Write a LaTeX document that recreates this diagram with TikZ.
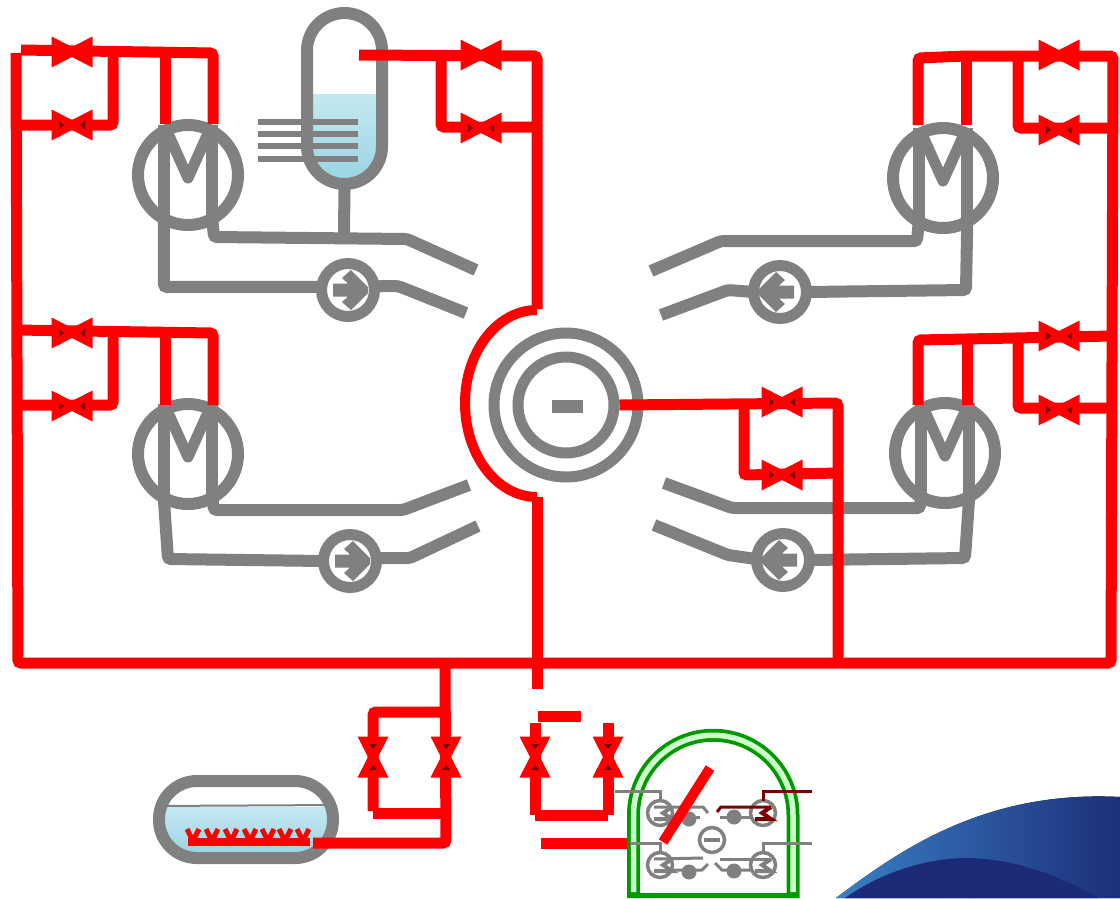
\documentclass[tikz,border=0pt]{standalone}
\usepackage{xcolor}
\usepackage{tikz}

\definecolor{steamred}{RGB}{255,0,0}
\definecolor{pipegrey}{RGB}{128,128,128}
\definecolor{darkred}{RGB}{122,0,0}
\definecolor{contgreen}{RGB}{0,153,0}
\definecolor{contpale}{RGB}{204,255,204}
\definecolor{waterlight}{RGB}{196,232,240}
\definecolor{waterdark}{RGB}{150,210,226}
\definecolor{logolight}{RGB}{58,127,196}
\definecolor{logodark}{RGB}{29,47,122}
\definecolor{logonavy}{RGB}{28,42,120}

\begin{document}
\begin{tikzpicture}[
    x=1pt, y=-1pt,
    redpipe/.style={draw=steamred, line width=11pt, rounded corners=3pt},
    greypipe/.style={draw=pipegrey, line width=12pt, rounded corners=3pt},
    thinpipe/.style={draw=pipegrey, line width=3pt},
    hotpipe/.style={draw=darkred, line width=3pt},
    motor/.style={circle, draw=pipegrey, line width=12pt, minimum size=100pt, inner sep=0pt, outer sep=0pt},
    pump/.style={circle, draw=pipegrey, fill=white, line width=11pt, minimum size=53pt, inner sep=0pt, outer sep=0pt},
    tiny/.style={circle, draw=pipegrey, fill=white, line width=3.5pt, minimum size=25pt, inner sep=0pt, outer sep=0pt},
    tinypump/.style={circle, fill=pipegrey, minimum size=15pt, inner sep=0pt, outer sep=0pt},
    vessel/.style={draw=pipegrey, line width=12pt, inner sep=0pt, outer sep=0pt},
    water/.style={top color=waterlight, bottom color=waterdark},
    pics/valve/.style={code={
      \fill[steamred] (-20.5,-15.5) -- (0,-5) -- (20.5,-15.5) -- (20.5,15.5) -- (0,5) -- (-20.5,15.5) -- cycle;
    }},
    pics/darkvalve/.style={code={
      \fill[steamred] (-20.5,-15.5) -- (0,-5) -- (20.5,-15.5) -- (20.5,15.5) -- (0,5) -- (-20.5,15.5) -- cycle;
      \fill[darkred] (-13,-4) -- (-8,0) -- (-13,4) -- cycle;
      \fill[darkred] (13,-4) -- (8,0) -- (13,4) -- cycle;
    }},
    pics/mletter/.style={code={
      \draw[pipegrey, line width=12pt] (-24,-50) -- (-24,40);
      \draw[pipegrey, line width=12pt] (24,-50) -- (24,40);
      \draw[pipegrey, line width=11pt, line join=round] (-22,-46) -- (0,3) -- (22,-46);
    }},
    pics/pumphead/.style={code={
      \fill[pipegrey] (-14,-6.5) -- (1,-6.5) -- (-5,-12) -- (4,-20) -- (21,-3) -- (21,3) -- (4,20) -- (-5,12) -- (1,6.5) -- (-14,6.5) -- cycle;
    }},
  ]
  \useasboundingbox (0,0) rectangle (1120,898);

  % logo corner
  \fill[left color=logolight, right color=logodark] (836,898) .. controls (900,850) and (985,790) .. (1120,797) -- (1120,898) -- cycle;
  \fill[logonavy] (845,898) .. controls (885,870) and (930,858) .. (967,858) .. controls (1010,858) and (1060,875) .. (1098,898) -- cycle;

  % tanks
  \begin{scope}
    \clip (307,94) -- (307,147) arc[start angle=180, end angle=0, radius=37.5] -- (382,94) -- cycle;
    \fill[water] (300,94) rectangle (390,190);
  \end{scope}
  \node[vessel, rounded corners=37.5pt, minimum width=75pt, minimum height=171pt] (tankA) at (344.5,98.5) {};
  \foreach \ty in {122,134,146,159}
    \draw[pipegrey, line width=6pt] (258,\ty) -- (358,\ty);
  \draw[greypipe] (tankA.south) -- (344,237);

  \begin{scope}
    \clip (159,781) [rounded corners=38pt] rectangle (333,858);
    \fill[water] (150,807) rectangle (340,860);
    \draw[pipegrey, line width=2pt] (150,806) -- (340,805);
  \end{scope}
  \node[vessel, rounded corners=38pt, minimum width=174pt, minimum height=77pt] (condA) at (246,819.5) {};

  % generators
  \foreach \mname/\mx/\my in {mLT/188/175, mLB/188/454, mRT/943/178, mRB/945/453} {
    \node[motor] (\mname) at (\mx,\my) {};
    \pic at (\mx,\my) {mletter};
  }
  \foreach \pname/\px/\py in {pLT/348/290, pLB/350/561, pRT/780/292, pRB/783/560}
    \node[pump] (\pname) at (\px,\py) {};

  % grey loops
  \draw[greypipe] (mLT.299) -- (214,237) -- (407,239) -- (476,270);
  \draw[greypipe] (mLT.241) -- (164,287) -- (pLT.173);
  \draw[greypipe] (pLT.8) -- (398,286) -- (466,313);
  \draw[greypipe] (mLB.299) -- (214,510) -- (403,510) -- (469,485);
  \draw[greypipe] (mLB.241) -- (168,559) -- (pLB.180);
  \draw[greypipe] (pLB) ++(26,-3) -- (410,558) -- (478,526);
  \draw[greypipe] (mRT.241) -- (917,241) -- (721,241) -- (651,271);
  \draw[greypipe] (mRT.299) -- (966,290) -- (pRT.0);
  \draw[greypipe] (pRT.180) -- (728,290) -- (661,315);
  \draw[greypipe] (mRB.241) -- (920,508) -- (732,508) -- (664,483);
  \draw[greypipe] (mRB.299) -- (965,558) -- (pRB.0);
  \draw[greypipe] (pRB.178) -- (728,555) -- (654,525);

  \foreach \px/\py in {347/290, 349/561}
    \pic at (\px,\py) {pumphead};
  \foreach \px/\py in {780/292, 783/560}
    \pic[xscale=-1] at (\px,\py) {pumphead};

  % reactor
  \node[circle, draw=pipegrey, line width=11pt, minimum size=144pt, inner sep=0pt] (vesselA) at (566,405) {};
  \node[circle, draw=pipegrey, line width=11pt, minimum size=96pt, inner sep=0pt] (coreA) at (566,405) {};
  \fill[pipegrey] (552,400) rectangle (583,413);

  % steam lines
  \draw[redpipe] (16,53) -- (18,663) -- (1111,663) -- (1113,56) -- (966,56) -- (918,58) -- (918,125);
  \draw[redpipe] (966,56) -- (966,125);
  \draw[redpipe] (1018,56) -- (1018,128) -- (1111,128);
  \draw[redpipe] (1111,336) -- (918,340) -- (918,405);
  \draw[redpipe] (967,339) -- (967,405);
  \draw[redpipe] (1018,339) -- (1018,408) -- (1111,408);
  \draw[redpipe] (21,50) -- (213,53) -- (213,124);
  \draw[redpipe] (165,52) -- (165,124);
  \draw[redpipe] (113,52) -- (113,125) -- (16,125);
  \draw[redpipe] (16,330) -- (213,333) -- (213,405);
  \draw[redpipe] (165,332) -- (165,405);
  \draw[redpipe] (113,332) -- (113,405) -- (16,405);
  \draw[redpipe] (359,55) -- (537,56) -- (537,309);
  \draw[redpipe] (441,55) -- (441,127) -- (537,127);
  \draw[redpipe] (coreA.east) -- (838,403) -- (838,658);
  \draw[redpipe] (744,402) -- (744,475) -- (838,473);
  \draw[draw=steamred, line width=10pt] (537,310) .. controls (497,310) and (465,352) .. (465,403) .. controls (465,455) and (497,497) .. (537,497);
  \draw[redpipe] (537,497) -- (537,689);

  % relief lines
  \draw[redpipe] (445,668) -- (446,843) -- (313,843);
  \draw[redpipe] (446,712) -- (373,712) -- (373,811);
  \draw[redpipe] (373,813) -- (446,813);
  \draw[redpipe] (538,716) -- (581,716);
  \draw[redpipe] (535,723) -- (535,815);
  \draw[redpipe] (608,723) -- (608,815);
  \draw[redpipe] (535,815) -- (608,815);
  \draw[redpipe] (541,843) -- (630,843);

  % valves
  \foreach \vx/\vy in {72/52, 481/55, 1059/55}
    \pic at (\vx,\vy) {valve};
  \foreach \vx/\vy in {72/125, 72/333, 72/406, 481/128, 1059/130, 1059/336, 1059/410, 782/402, 782/475}
    \pic at (\vx,\vy) {darkvalve};
  \foreach \vx/\vy in {373/757, 446/757, 535/757, 608/757}
    \pic[rotate=90] at (\vx,\vy) {darkvalve};

  % spargers
  \fill[steamred] (188,838) rectangle (310,846);
  \foreach \sx in {193,212,231,250,268,285,303}
    \draw[steamred, line width=5pt] (\sx-6,829) -- (\sx,841) -- (\sx+6,829);

  % containment
  \draw[contgreen, line width=13pt] (633.5,898) -- (633.5,815) arc[start angle=180, end angle=360, radius=79.75] -- (793,898);
  \draw[contpale, line width=5.5pt] (633.5,892) -- (633.5,815) arc[start angle=180, end angle=360, radius=79.75] -- (793,892);
  \draw[contgreen, line width=5pt] (627,895.5) -- (799,895.5);

  % small plant
  \node[tiny] (sLT) at (660,813) {};
  \node[tiny] (sLB) at (660,865) {};
  \node[tiny] (sRT) at (763,813) {};
  \node[tiny] (sRB) at (763,865) {};
  \node[tiny] (sCore) at (712,840) {};
  \fill[pipegrey] (704,838) rectangle (720,842);
  \foreach \pname/\px/\py in {qLT/689/819, qLB/689/872, qRT/734/817, qRB/734/871}
    \node[tinypump] (\pname) at (\px,\py) {};
  \draw[thinpipe] (615,791) -- (660,791) -- (sLT.north);
  \draw[thinpipe] (630,843) -- (660,843) -- (sLB.north);
  \draw[thinpipe] (812,843) -- (763,843) -- (sRB.north);
  \draw[hotpipe] (812,791) -- (763,791) -- (sRT.north);
  \draw[thinpipe] (654,807) -- (672,807) -- (703,807) -- (708,813);
  \draw[thinpipe, line width=4pt] (672,807) -- (663,813) -- (672,819) -- (654,819);
  \draw[thinpipe] (672,817) -- (700,817);
  \draw[thinpipe] (654,859) -- (703,858);
  \draw[thinpipe, line width=4pt] (672,859) -- (663,865) -- (672,871) -- (654,871);
  \draw[thinpipe] (672,870) -- (702,870) -- (708,864);
  \draw[hotpipe] (717,812) -- (721,807) -- (771,807);
  \draw[hotpipe, line width=4pt] (771,807) -- (762,813) -- (771,819) -- (755,819);
  \draw[thinpipe] (720,817) -- (750,817);
  \draw[thinpipe] (720,859) -- (771,859);
  \draw[thinpipe, line width=4pt] (771,859) -- (762,865) -- (771,871) -- (755,871);
  \draw[thinpipe] (715,863) -- (722,870) -- (750,870);
  \draw[steamred, line width=10pt] (710,768) -- (663,842);
\end{tikzpicture}
\end{document}
